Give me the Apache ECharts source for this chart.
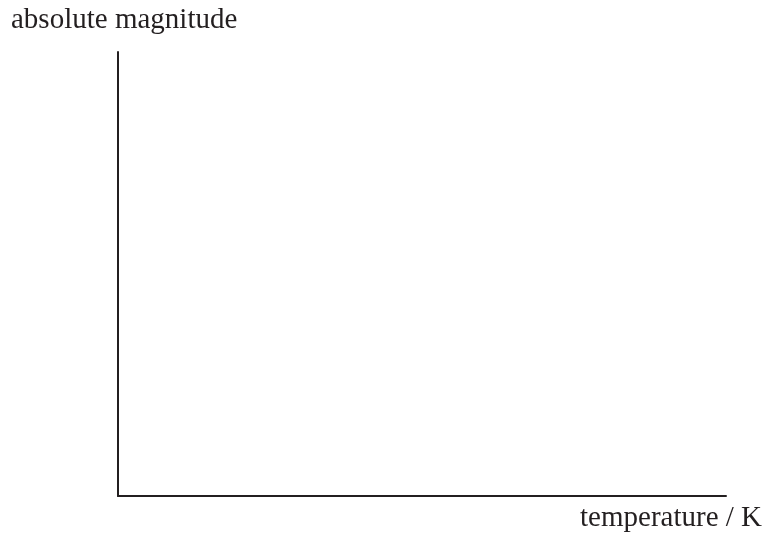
<!DOCTYPE html>
<html>
<head>
<meta charset="utf-8">
<script src="https://cdn.jsdelivr.net/npm/echarts@6/dist/echarts.min.js"></script>
<style>
html,body{margin:0;padding:0;background:#fff;}
#chart{width:767px;height:536px;}
</style>
</head>
<body>
<div id="chart"></div>
<script>
// axis titles, no data points in the reference (empty sketch axes)
var yTitle = 'absolute magnitude'
var xTitle = 'temperature / K'
var points = []

var ink = '#231f20'
var chart = echarts.init(document.getElementById('chart'))

chart.setOption({
  animation: false,
  grid: { left: 118, right: 41, top: 52, bottom: 40 },
  xAxis: {
    type: 'value', min: 0, max: 1,
    axisLine: { show: true, lineStyle: { color: ink, width: 2 } },
    axisTick: { show: false }, axisLabel: { show: false }, splitLine: { show: false }
  },
  yAxis: {
    type: 'value', min: 0, max: 1,
    axisLine: { show: true, lineStyle: { color: ink, width: 2 } },
    axisTick: { show: false }, axisLabel: { show: false }, splitLine: { show: false }
  },
  graphic: [
    { type: 'text', left: 11, top: 6,
      style: { text: yTitle, fill: ink, font: '29px "Liberation Serif"' } },
    { type: 'text', right: 5, top: 504,
      style: { text: xTitle, fill: ink, font: '29px "Liberation Serif"' } }
  ],
  series: [{ type: 'scatter', data: points }]
})
</script>
</body>
</html>
